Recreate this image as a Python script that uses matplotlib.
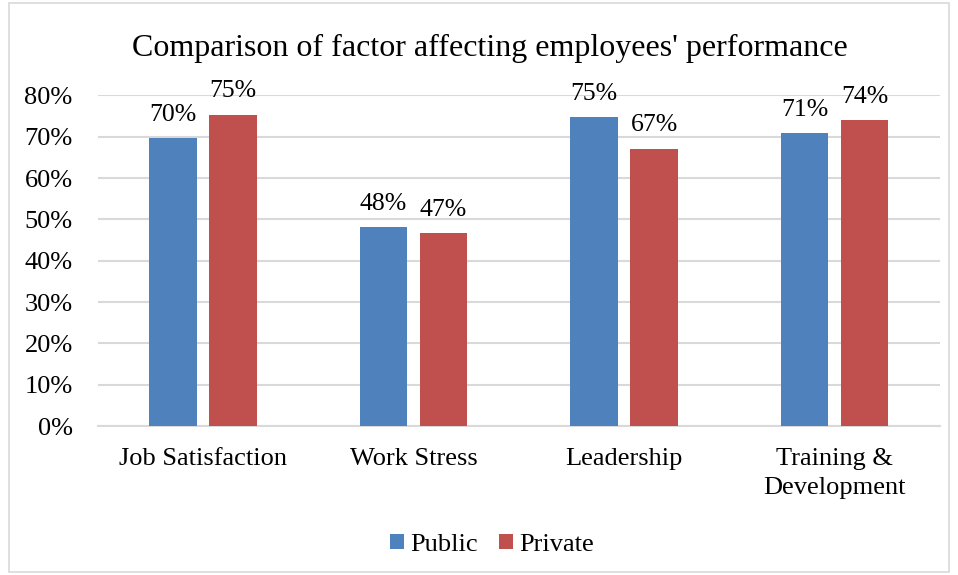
import numpy as np
import matplotlib
matplotlib.use('Agg')
import matplotlib.pyplot as plt
from matplotlib.patches import Rectangle

plt.rcParams['font.family'] = ['Liberation Serif', 'DejaVu Serif']

categories = ['Job Satisfaction', 'Work Stress', 'Leadership', 'Training &\nDevelopment']
public = [69.6, 48.1, 74.7, 70.9]
private = [75.3, 46.6, 67.1, 74.0]
public_labels = ['70%', '48%', '75%', '71%']
private_labels = ['75%', '47%', '67%', '74%']
yticks = [0, 10, 20, 30, 40, 50, 60, 70, 80]

blue = '#4f81bd'
red = '#c0504d'

fig = plt.figure(figsize=(9.58, 5.75), dpi=100)
ax = fig.add_axes([0.102, 0.259, 0.879, 0.575])

x = np.arange(len(categories))
w = 0.225
off = 0.143
b1 = ax.bar(x - off, public, w, color=blue, label='Public', zorder=3)
b2 = ax.bar(x + off, private, w, color=red, label='Private', zorder=3)

for bars, labs in [(b1, public_labels), (b2, private_labels)]:
    for b, lab in zip(bars, labs):
        ax.annotate(lab, (b.get_x() + b.get_width() / 2, b.get_height()),
                    xytext=(0, 9), textcoords='offset points',
                    ha='center', va='bottom', fontsize=18.5)

ax.set_xlim(-0.5, len(categories) - 0.5)
ax.set_ylim(0, 80)
ax.set_yticks(yticks)
ax.set_yticklabels([f'{v}%' for v in yticks])
ax.set_xticks(x)
ax.set_xticklabels(categories, linespacing=1.4)
ax.tick_params(axis='both', length=0, labelsize=19)
ax.tick_params(axis='x', pad=16)
ax.tick_params(axis='y', pad=18)
ax.grid(axis='y', color='#d9d9d9', linewidth=1.5, zorder=0)
for s in ['top', 'right', 'left']:
    ax.spines[s].set_visible(False)
ax.spines['bottom'].set_color('#d9d9d9')
ax.spines['bottom'].set_linewidth(1.5)

fig.suptitle("Comparison of factor affecting employees' performance",
             fontsize=23, x=490 / 958, y=1 - 48 / 575, va='center')

fig.legend(loc='center', bbox_to_anchor=(492 / 958, 1 - 545 / 575), ncol=2, frameon=False,
           fontsize=19, handlelength=0.53, handleheight=0.53, handletextpad=0.23,
           columnspacing=0.8)

fig.patches.append(Rectangle((9 / 958, 3 / 575), 940 / 958, 569 / 575, transform=fig.transFigure,
                             fill=False, edgecolor='#d9d9d9', linewidth=1.2))

fig.savefig('out.png', dpi=100)
